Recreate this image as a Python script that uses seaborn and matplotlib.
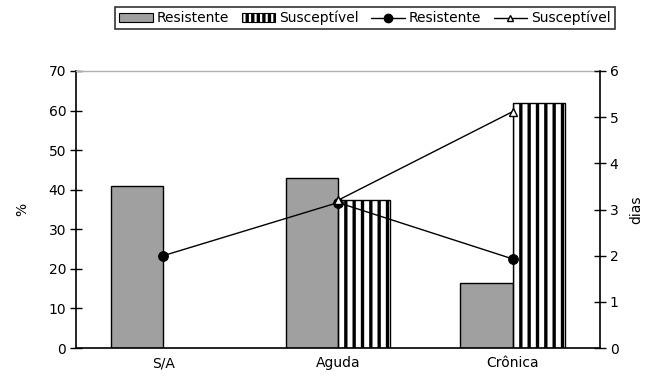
import numpy as np
import pandas as pd
import matplotlib
matplotlib.use("Agg")
import matplotlib.pyplot as plt
import seaborn as sns
from matplotlib.patches import Patch
from matplotlib.lines import Line2D

# Data
categorias = ["S/A", "Aguda", "Crônica"]
pct_resistente = [41, 43, 16.5]
pct_susceptivel = [np.nan, 37.5, 62]
dias_resistente = [2.0, 3.15, 1.93]
dias_susceptivel = [np.nan, 3.2, 5.12]

sns.set_theme(style="white")
plt.rcParams["font.family"] = ["DejaVu Sans"]
plt.rcParams["text.color"] = "black"
plt.rcParams["axes.labelcolor"] = "black"
plt.rcParams["xtick.color"] = "black"
plt.rcParams["ytick.color"] = "black"
plt.rcParams["hatch.linewidth"] = 2.4
plt.rcParams["hatch.color"] = "black"

fs = 10
gris = "#a0a0a0"

fig = plt.figure(figsize=(6.54, 3.78), dpi=100)
ax = fig.add_axes([76/654, 1 - 348/378, (600 - 76)/654, (348 - 71)/378])

bars = pd.DataFrame({
    "cat": categorias * 2,
    "grupo": ["Resistente"] * 3 + ["Susceptível"] * 3,
    "valor": pct_resistente + [0 if np.isnan(v) else v for v in pct_susceptivel],
})
sns.barplot(data=bars, x="cat", y="valor", hue="grupo", order=categorias,
            hue_order=["Resistente", "Susceptível"],
            palette={"Resistente": gris, "Susceptível": "white"},
            width=0.6, gap=0, edgecolor="black", linewidth=1.0,
            saturation=1, legend=False, ax=ax)
n = len(categorias)
for i, p in enumerate(ax.patches):
    if i >= n:
        p.set_hatch("||")
        if p.get_height() == 0:
            p.set_visible(False)

ax.set_ylim(0, 70)
ax.set_xlim(-0.5, 2.5)
ax.set_yticks(np.arange(0, 71, 10))
ax.set_xticks([-0.5, 0.5, 1.5, 2.5])
ax.set_xticklabels([])
ax.set_xticks([0, 1, 2], minor=True)
ax.set_xticklabels(categorias, minor=True, fontsize=fs)
ax.tick_params(axis="x", which="minor", length=0, pad=6)
ax.tick_params(axis="x", which="major", direction="inout", length=8, width=1, color="black")
ax.tick_params(axis="y", direction="inout", length=8, width=1, color="black", labelsize=fs, pad=3)
ax.set_xlabel("")
ax.set_ylabel("%", fontsize=fs, labelpad=14)

for s in ["left", "bottom"]:
    ax.spines[s].set_color("black")
    ax.spines[s].set_linewidth(1.2)
ax.spines["top"].set_color("#b0b0b0")
ax.spines["top"].set_linewidth(1.0)
ax.spines["right"].set_visible(False)

ax2 = ax.twinx()
x_pos = np.arange(n)
sns.lineplot(x=x_pos, y=dias_resistente, color="black", linewidth=1.0,
             marker="o", markersize=7, markerfacecolor="black",
             markeredgecolor="black", ax=ax2)
sns.lineplot(x=x_pos, y=dias_susceptivel, color="black", linewidth=1.0,
             marker="^", markersize=6, markerfacecolor="white",
             markeredgecolor="black", markeredgewidth=1.0, ax=ax2)
ax2.set_ylim(0, 6)
ax2.set_yticks(np.arange(0, 7, 1))
ax2.tick_params(axis="y", direction="inout", length=8, width=1, color="black", labelsize=fs, pad=3, right=True)
ax2.set_ylabel("dias", fontsize=fs, labelpad=8)
for s in ["left", "bottom", "top"]:
    ax2.spines[s].set_visible(False)
ax2.spines["right"].set_color("black")
ax2.spines["right"].set_linewidth(1.2)
ax2.grid(False)
ax.grid(False)

handles = [
    Patch(facecolor=gris, edgecolor="black", linewidth=0.8),
    Patch(facecolor="white", edgecolor="black", hatch="|||", linewidth=0.8),
    Line2D([], [], color="black", linewidth=1.0, marker="o", markersize=6),
    Line2D([], [], color="black", linewidth=1.0, marker="^", markersize=4,
           markerfacecolor="white", markeredgecolor="black"),
]
labels = ["Resistente", "Susceptível", "Resistente", "Susceptível"]
leg = fig.legend(handles, labels, loc="center", bbox_to_anchor=(365/654, 1 - 18/378),
                 ncol=4, frameon=True, fancybox=False, fontsize=fs,
                 handlelength=2.4, handleheight=0.6, handletextpad=0.3, columnspacing=0.9,
                 borderpad=0.3, borderaxespad=0)
leg.get_frame().set_edgecolor("black")
leg.get_frame().set_linewidth(1.2)

fig.savefig("out.png", dpi=100, facecolor="white")
